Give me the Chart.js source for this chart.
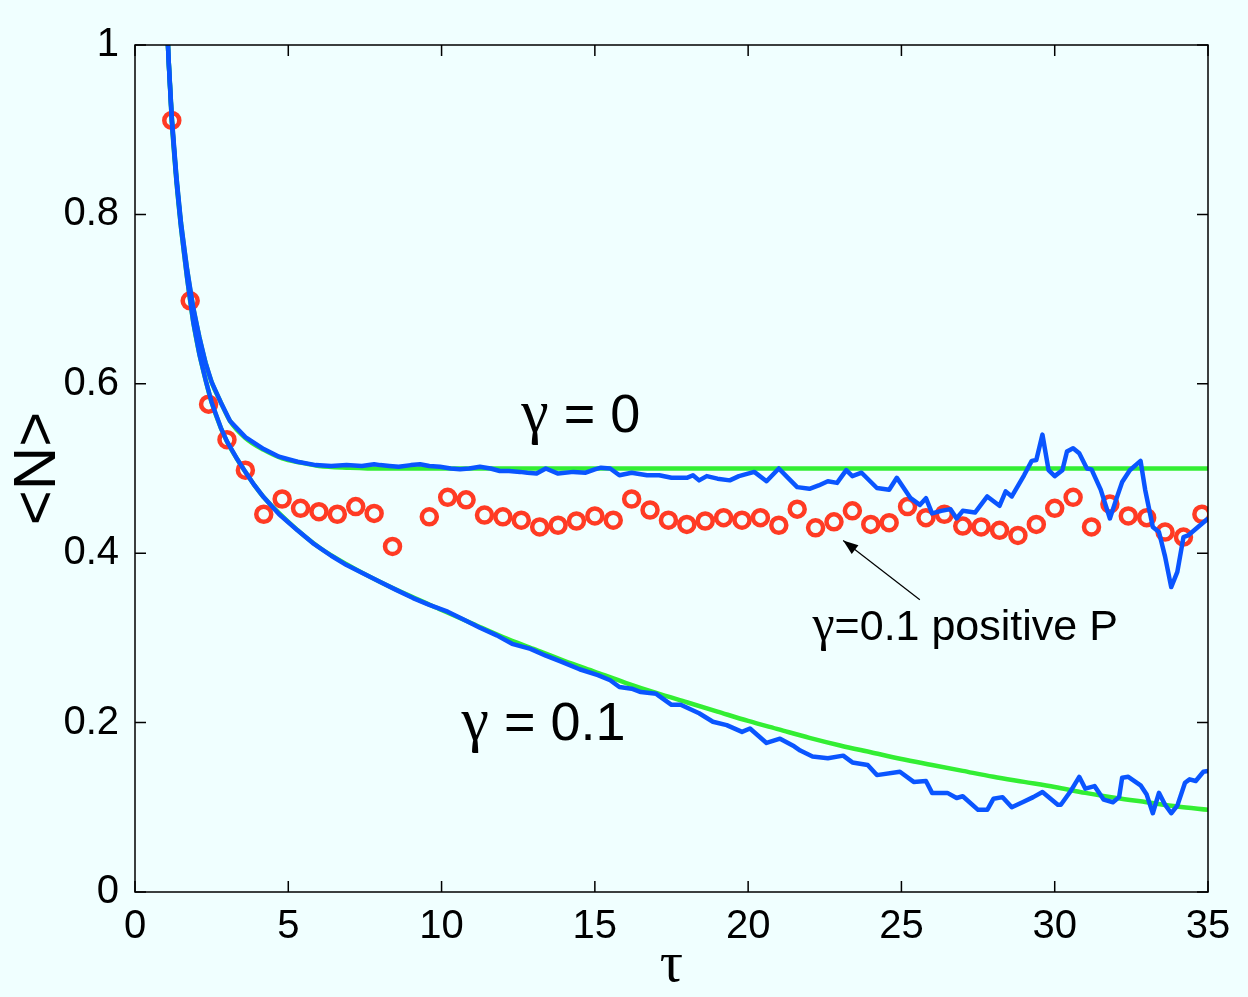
<!DOCTYPE html>
<html>
<head>
<meta charset="utf-8">
<script src="https://cdn.jsdelivr.net/npm/chart.js@4.4.1/dist/chart.umd.min.js"></script>
<style>
  html, body { margin: 0; padding: 0; background: #f0ffff; }
  #wrap { width: 1248px; height: 997px; }
</style>
</head>
<body>
<div id="wrap"><canvas id="chart" width="1248" height="997"></canvas></div>
<script>
// gamma = 0.1 positive P (red circles)
var tauP = [1.2, 1.8, 2.4, 3.0, 3.6, 4.2, 4.8, 5.4, 6.0, 6.6, 7.2, 7.8, 8.4, 9.6, 10.2, 10.8, 11.4, 12.0, 12.6, 13.2,
            13.8, 14.4, 15.0, 15.6, 16.2, 16.8, 17.4, 18.0, 18.6, 19.2, 19.8, 20.4, 21.0, 21.6, 22.2, 22.8, 23.4, 24.0,
            24.6, 25.2, 25.8, 26.4, 27.0, 27.6, 28.2, 28.8, 29.4, 30.0, 30.6, 31.2, 31.8, 32.4, 33.0, 33.6, 34.2, 34.8];
var nP = [0.911, 0.698, 0.576, 0.534, 0.498, 0.446, 0.464, 0.453, 0.449, 0.446, 0.455, 0.447, 0.408, 0.443, 0.466, 0.463,
          0.445, 0.443, 0.439, 0.431, 0.433, 0.438, 0.444, 0.439, 0.464, 0.451, 0.439, 0.434, 0.438, 0.442, 0.439, 0.442,
          0.433, 0.452, 0.430, 0.437, 0.450, 0.434, 0.436, 0.455, 0.442, 0.446, 0.432, 0.431, 0.427, 0.421, 0.434, 0.453,
          0.466, 0.431, 0.458, 0.444, 0.442, 0.425, 0.419, 0.446];

// gamma = 0 simulation (blue) and theory (green)
var tauSim0 = [1.0, 1.1, 1.2, 1.35, 1.5, 1.7, 1.9, 2.1, 2.3, 2.5, 2.8, 3.1, 3.6, 4.2, 4.7, 5.3, 5.9, 6.4, 6.9, 7.4, 7.8,
               8.0, 8.3, 8.6, 9.0, 9.3, 9.6, 9.95, 10.3, 10.6, 10.9, 11.25, 11.6, 11.9, 12.2, 12.56, 12.8, 13.1, 13.4,
               13.8, 14.3, 14.7, 15.0, 15.2, 15.5, 15.8, 16.2, 16.7, 17.1, 17.5, 18.0, 18.2, 18.4, 18.65, 19.0, 19.4,
               19.7, 20.2, 20.6, 21.0, 21.3, 21.6, 22.0, 22.3, 22.6, 22.9, 23.2, 23.4, 23.7, 24.2, 24.6, 24.85, 25.3,
               25.6, 25.8, 26.0, 26.3, 26.6, 26.8, 27.0, 27.4, 27.8, 28.2, 28.4, 28.6, 29.0, 29.25, 29.4, 29.6, 29.8,
               30.0, 30.25, 30.4, 30.6, 30.8, 31.05, 31.2, 31.5, 31.8, 32.0, 32.2, 32.45, 32.8, 32.95, 33.2, 33.4,
               33.6, 33.8, 34.0, 34.2, 34.35, 35.0];
var nSim0 = [1.06, 0.98, 0.915, 0.845, 0.79, 0.735, 0.69, 0.655, 0.625, 0.602, 0.578, 0.556, 0.537, 0.523, 0.514, 0.508,
             0.504, 0.503, 0.504, 0.503, 0.505, 0.504, 0.503, 0.502, 0.504, 0.505, 0.503, 0.502, 0.500, 0.499, 0.500,
             0.502, 0.500, 0.497, 0.497, 0.496, 0.495, 0.494, 0.500, 0.494, 0.496, 0.495, 0.499, 0.501, 0.500, 0.492,
             0.495, 0.492, 0.492, 0.489, 0.489, 0.492, 0.486, 0.491, 0.488, 0.486, 0.491, 0.496, 0.485, 0.500, 0.489,
             0.478, 0.476, 0.480, 0.485, 0.483, 0.498, 0.491, 0.495, 0.477, 0.475, 0.489, 0.465, 0.457, 0.465, 0.447,
             0.450, 0.452, 0.441, 0.450, 0.448, 0.467, 0.456, 0.473, 0.467, 0.492, 0.509, 0.510, 0.540, 0.498, 0.491,
             0.498, 0.520, 0.524, 0.518, 0.500, 0.499, 0.475, 0.441, 0.463, 0.484, 0.498, 0.509, 0.475, 0.431, 0.425,
             0.396, 0.360, 0.378, 0.419, 0.421, 0.441];
var tauTh0 = [1.0, 1.1, 1.2, 1.35, 1.5, 1.7, 1.9, 2.1, 2.3, 2.5, 2.8, 3.1, 3.6, 4.2, 4.8, 5.4, 6.0, 7.0, 8.0, 35.0];
var nTh0 = [1.06, 0.98, 0.915, 0.845, 0.79, 0.735, 0.69, 0.655, 0.625, 0.602, 0.578, 0.556, 0.536, 0.522, 0.512,
            0.507, 0.503, 0.501, 0.5, 0.5];

// gamma = 0.1 simulation (blue) and theory (green)
var tauSim1 = [1.0, 1.1, 1.2, 1.35, 1.5, 1.7, 1.9, 2.1, 2.3, 2.5, 2.8, 3.0, 3.3, 3.6, 3.9, 4.2, 4.7, 5.3, 5.8, 6.4, 6.9,
               7.4, 8.0, 8.5, 9.07, 9.6, 10.2, 10.7, 11.25, 11.8, 12.3, 12.9, 13.4, 13.9, 14.5, 15.1, 15.5, 15.8, 16.2,
               16.5, 17.0, 17.5, 17.8, 18.1, 18.4, 18.85, 19.3, 19.8, 20.06, 20.6, 21.04, 21.5, 21.7, 22.1, 22.6, 23.1,
               23.4, 23.9, 24.2, 24.95, 25.4, 25.8, 26.0, 26.5, 26.8, 27.0, 27.5, 27.8, 28.0, 28.3, 28.6, 28.95, 29.3,
               29.6, 30.1, 30.2, 30.5, 30.8, 31.0, 31.3, 31.6, 31.9, 32.1, 32.2, 32.4, 32.8, 33.0, 33.2, 33.4, 33.6,
               33.8, 34.0, 34.25, 34.4, 34.6, 34.85, 35.0];
var nSim1 = [1.06, 0.98, 0.91, 0.84, 0.785, 0.725, 0.673, 0.635, 0.605, 0.578, 0.548, 0.532, 0.513, 0.496, 0.480, 0.466,
             0.446, 0.427, 0.412, 0.397, 0.386, 0.377, 0.366, 0.357, 0.347, 0.339, 0.331, 0.322, 0.312, 0.303, 0.293,
             0.287, 0.279, 0.272, 0.263, 0.256, 0.250, 0.242, 0.240, 0.236, 0.234, 0.221, 0.221, 0.216, 0.211, 0.201,
             0.197, 0.189, 0.193, 0.176, 0.181, 0.172, 0.167, 0.160, 0.158, 0.161, 0.153, 0.150, 0.138, 0.142, 0.130,
             0.131, 0.117, 0.117, 0.111, 0.113, 0.097, 0.097, 0.110, 0.112, 0.100, 0.106, 0.112, 0.118, 0.103, 0.103,
             0.118, 0.136, 0.122, 0.125, 0.109, 0.106, 0.112, 0.135, 0.136, 0.126, 0.115, 0.093, 0.117, 0.103, 0.093,
             0.102, 0.129, 0.133, 0.131, 0.142, 0.143];
var tauTh1 = [1.0, 1.1, 1.2, 1.35, 1.5, 1.7, 1.9, 2.1, 2.3, 2.5, 2.8, 3.0, 3.3, 3.6, 3.9, 4.2, 5, 6, 7, 8, 9, 10, 11, 12,
              13, 14, 15, 16, 17, 18, 19, 20, 21, 22, 23, 24, 25, 26, 27, 28, 29, 30, 31, 32, 33, 34, 35];
var nTh1 = [1.06, 0.98, 0.91, 0.84, 0.785, 0.725, 0.673, 0.635, 0.605, 0.578, 0.548, 0.532, 0.513, 0.496, 0.480, 0.466,
            0.437, 0.407, 0.385, 0.366, 0.349, 0.333, 0.317, 0.301, 0.287, 0.273, 0.260, 0.247, 0.235, 0.224, 0.213,
            0.202, 0.192, 0.182, 0.173, 0.165, 0.157, 0.150, 0.143, 0.136, 0.130, 0.124, 0.117, 0.111, 0.106, 0.101,
            0.097];

var xTicks = [0, 5, 10, 15, 20, 25, 30, 35];
var yTicks = [0, 0.2, 0.4, 0.6, 0.8, 1];

function pts(xs, ys) {
  return xs.map(function(x, i) { return {x: x, y: ys[i]}; });
}

var BLUE = '#0a55ff', GREEN = '#33ee33', RED = '#ff3b24';
var SANS = '"Liberation Sans", Arial, sans-serif';
var SERIF = '"Liberation Serif", "DejaVu Serif", serif';

// draws a string made of [text, font] pieces starting at x
function drawPieces(ctx, pieces, x, y) {
  pieces.forEach(function(p) {
    ctx.font = p[1];
    ctx.fillText(p[0], x, y);
    x += ctx.measureText(p[0]).width;
  });
}

var frame = {
  id: 'frame',
  beforeDraw: function(chart) {
    var ctx = chart.ctx;
    ctx.save();
    ctx.fillStyle = '#f0ffff';
    ctx.fillRect(0, 0, chart.width, chart.height);
    ctx.restore();
  },
  afterDraw: function(chart) {
    var ctx = chart.ctx, a = chart.chartArea;
    var xs = chart.scales.x, ys = chart.scales.y;
    ctx.save();
    ctx.strokeStyle = '#000';
    ctx.lineWidth = 1.5;
    ctx.strokeRect(a.left, a.top, a.right - a.left, a.bottom - a.top);
    ctx.beginPath();
    xTicks.forEach(function(t) {
      var px = xs.getPixelForValue(t);
      ctx.moveTo(px, a.bottom); ctx.lineTo(px, a.bottom - 11);
      ctx.moveTo(px, a.top); ctx.lineTo(px, a.top + 11);
    });
    yTicks.forEach(function(t) {
      var py = ys.getPixelForValue(t);
      ctx.moveTo(a.left, py); ctx.lineTo(a.left + 11, py);
      ctx.moveTo(a.right, py); ctx.lineTo(a.right - 11, py);
    });
    ctx.stroke();

    // axis titles
    ctx.fillStyle = '#000';
    ctx.textAlign = 'center';
    ctx.textBaseline = 'middle';
    ctx.font = '58px ' + SERIF;
    ctx.fillText('\u03c4', (a.left + a.right) / 2, 966);
    ctx.save();
    ctx.translate(38, (a.top + a.bottom) / 2);
    ctx.rotate(-Math.PI / 2);
    ctx.font = '60px ' + SANS;
    ctx.fillText('<N>', 0, 0);
    ctx.restore();

    // annotations
    ctx.textAlign = 'left';
    ctx.textBaseline = 'alphabetic';
    drawPieces(ctx, [['\u03b3', '62px ' + SERIF], [' = 0', '54px ' + SANS]],
      xs.getPixelForValue(12.6), ys.getPixelForValue(0.543));
    drawPieces(ctx, [['\u03b3', '62px ' + SERIF], [' = 0.1', '54px ' + SANS]],
      xs.getPixelForValue(10.65), ys.getPixelForValue(0.18));
    drawPieces(ctx, [['\u03b3', '50px ' + SERIF], ['=0.1 positive P', '43px ' + SANS]],
      xs.getPixelForValue(22.1), ys.getPixelForValue(0.298));

    // arrow
    var x0 = xs.getPixelForValue(25.6), y0 = ys.getPixelForValue(0.345);
    var x1 = xs.getPixelForValue(23.1), y1 = ys.getPixelForValue(0.415);
    var ang = Math.atan2(y1 - y0, x1 - x0);
    ctx.lineWidth = 1.2;
    ctx.beginPath();
    ctx.moveTo(x0, y0); ctx.lineTo(x1, y1);
    ctx.stroke();
    ctx.beginPath();
    ctx.moveTo(x1, y1);
    ctx.lineTo(x1 - 16 * Math.cos(ang - 0.35), y1 - 16 * Math.sin(ang - 0.35));
    ctx.lineTo(x1 - 16 * Math.cos(ang + 0.35), y1 - 16 * Math.sin(ang + 0.35));
    ctx.closePath();
    ctx.fill();
    ctx.restore();
  }
};

new Chart(document.getElementById('chart').getContext('2d'), {
  type: 'scatter',
  data: {
    datasets: [{
      label: 'gamma=0 theory',
      type: 'line',
      data: pts(tauTh0, nTh0),
      borderColor: GREEN,
      borderWidth: 4.5,
      pointRadius: 0,
      cubicInterpolationMode: 'monotone',
      fill: false,
      order: 3
    }, {
      label: 'gamma=0.1 theory',
      type: 'line',
      data: pts(tauTh1, nTh1),
      borderColor: GREEN,
      borderWidth: 4.5,
      pointRadius: 0,
      cubicInterpolationMode: 'monotone',
      fill: false,
      order: 3
    }, {
      label: 'gamma=0.1 positive P',
      data: pts(tauP, nP),
      backgroundColor: 'rgba(0,0,0,0)',
      borderColor: RED,
      borderWidth: 4.5,
      pointRadius: 7.5,
      order: 2
    }, {
      label: 'gamma=0 sim',
      type: 'line',
      data: pts(tauSim0, nSim0),
      borderColor: BLUE,
      borderWidth: 4.5,
      pointRadius: 0,
      tension: 0,
      borderJoinStyle: 'round',
      fill: false,
      order: 1
    }, {
      label: 'gamma=0.1 sim',
      type: 'line',
      data: pts(tauSim1, nSim1),
      borderColor: BLUE,
      borderWidth: 4.5,
      pointRadius: 0,
      tension: 0,
      borderJoinStyle: 'round',
      fill: false,
      order: 1
    }]
  },
  options: {
    responsive: false,
    animation: false,
    layout: { padding: { top: 45, right: 40, left: 0, bottom: 0 } },
    plugins: { legend: { display: false }, tooltip: { enabled: false } },
    scales: {
      x: {
        type: 'linear', min: 0, max: 35,
        grid: { display: false },
        border: { display: false },
        afterFit: function(s) { s.height = 105; },
        afterBuildTicks: function(s) { s.ticks = xTicks.map(function(v) { return {value: v}; }); },
        ticks: { color: '#000', padding: 3, maxRotation: 0, font: { family: SANS, size: 40 } }
      },
      y: {
        type: 'linear', min: 0, max: 1,
        grid: { display: false },
        border: { display: false },
        afterFit: function(s) { s.width = 135; },
        afterBuildTicks: function(s) { s.ticks = yTicks.map(function(v) { return {value: v}; }); },
        ticks: {
          color: '#000', padding: 8, font: { family: SANS, size: 40 },
          callback: function(v) { return String(Math.round(v * 10) / 10); }
        }
      }
    }
  },
  plugins: [frame]
});
</script>
</body>
</html>
